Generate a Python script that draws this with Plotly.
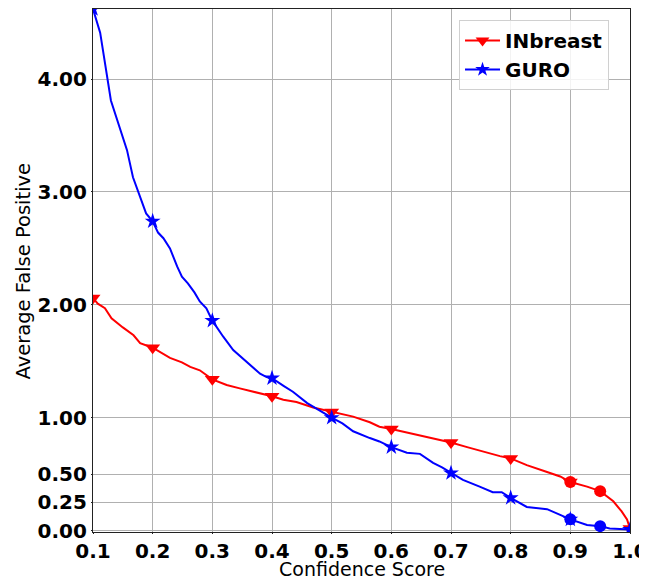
import plotly.graph_objects as go

# INbreast curve (confidence score, average false positive)
inb_x = [0.100, 0.108, 0.120, 0.131, 0.150, 0.168, 0.179, 0.200, 0.229, 0.249, 0.263, 0.279,
         0.300, 0.324, 0.346, 0.380, 0.400, 0.419, 0.441, 0.469, 0.500, 0.536, 0.564, 0.580,
         0.600, 0.626, 0.660, 0.700, 0.727, 0.760, 0.782, 0.800, 0.827, 0.861, 0.883, 0.900,
         0.928, 0.950, 0.972, 0.986, 0.995, 1.000]
inb_y = [2.06, 2.01, 1.97, 1.88, 1.80, 1.73, 1.66, 1.62, 1.53, 1.49, 1.45, 1.42,
         1.34, 1.29, 1.26, 1.22, 1.19, 1.16, 1.14, 1.09, 1.05, 1.01, 0.96, 0.92,
         0.90, 0.87, 0.83, 0.78, 0.74, 0.69, 0.66, 0.64, 0.58, 0.52, 0.48, 0.43,
         0.39, 0.35, 0.26, 0.17, 0.10, 0.02]

# GURO curve
guro_x = [0.100, 0.112, 0.130, 0.142, 0.157, 0.167, 0.179, 0.189, 0.200, 0.209, 0.218, 0.229,
          0.241, 0.249, 0.259, 0.270, 0.279, 0.290, 0.300, 0.318, 0.335, 0.358, 0.380, 0.391,
          0.400, 0.420, 0.435, 0.459, 0.480, 0.500, 0.518, 0.536, 0.564, 0.580, 0.600, 0.612,
          0.626, 0.648, 0.670, 0.685, 0.700, 0.720, 0.748, 0.770, 0.785, 0.800, 0.827, 0.861,
          0.883, 0.900, 0.928, 0.950, 0.966, 1.000]
guro_y = [4.62, 4.41, 3.81, 3.61, 3.37, 3.13, 2.96, 2.81, 2.74, 2.64, 2.59, 2.50,
          2.34, 2.25, 2.19, 2.11, 2.03, 1.97, 1.86, 1.72, 1.60, 1.49, 1.39, 1.36,
          1.35, 1.28, 1.23, 1.13, 1.06, 1.00, 0.95, 0.88, 0.82, 0.79, 0.74, 0.72,
          0.69, 0.68, 0.60, 0.56, 0.51, 0.45, 0.39, 0.34, 0.34, 0.29, 0.21, 0.19,
          0.14, 0.10, 0.05, 0.04, 0.02, 0.01]

marker_scores = [0.1, 0.2, 0.3, 0.4, 0.5, 0.6, 0.7, 0.8, 0.9, 1.0]
circle_scores = [0.9, 0.95]

x_ticks = [0.1, 0.2, 0.3, 0.4, 0.5, 0.6, 0.7, 0.8, 0.9, 1.0]
y_ticks = [0.0, 0.25, 0.5, 1.0, 2.0, 3.0, 4.0]
y_tick_labels = ["0.00", "0.25", "0.50", "1.00", "2.00", "3.00", "4.00"]


def pick(xs, ys, wanted):
    lut = {round(a, 3): b for a, b in zip(xs, ys)}
    return [w for w in wanted], [lut[round(w, 3)] for w in wanted]


fig = go.Figure()

series = [
    ("INbreast", inb_x, inb_y, "#ff0000", "triangle-down", 13),
    ("GURO", guro_x, guro_y, "#0000ff", "star", 12),
]

for name, xs, ys, color, sym, msize in series:
    fig.add_trace(go.Scatter(x=xs, y=ys, mode="lines", line=dict(color=color, width=2),
                             name=name, legendgroup=name, showlegend=False, hoverinfo="skip"))
    mx, my = pick(xs, ys, marker_scores)
    fig.add_trace(go.Scatter(x=mx, y=my, mode="markers",
                             marker=dict(symbol=sym, size=msize, color=color, line=dict(width=0)),
                             name=name, legendgroup=name, showlegend=False))
    cx, cy = pick(xs, ys, circle_scores)
    fig.add_trace(go.Scatter(x=cx, y=cy, mode="markers",
                             marker=dict(symbol="circle", size=12, color=color, line=dict(width=0)),
                             name=name, legendgroup=name, showlegend=False))
    # legend entry
    fig.add_trace(go.Scatter(x=[None], y=[None], mode="lines+markers",
                             line=dict(color=color, width=2),
                             marker=dict(symbol=sym, size=msize - 1, color=color),
                             name=name, legendgroup=name, showlegend=True))

axis_common = dict(
    showline=True, linecolor="#222222", linewidth=1.2, mirror=True,
    showgrid=True, gridcolor="#b0b0b0", gridwidth=1,
    ticks="outside", ticklen=1, tickcolor="#222222",
    tickfont=dict(family="DejaVu Sans", size=20, color="black", weight="bold"),
    zeroline=False, automargin=False, ticklabeloverflow="allow",
)

fig.update_xaxes(range=[0.1, 1.0], tickvals=x_ticks, tickformat=".1f", **axis_common)
fig.update_yaxes(range=[-0.012, 4.62], tickvals=y_ticks, ticktext=y_tick_labels, **axis_common)

title_font = dict(family="DejaVu Sans", size=19, color="black")
fig.add_annotation(text="Confidence Score", xref="paper", yref="paper", x=0.501, y=-0.0700,
                   xanchor="center", yanchor="middle", showarrow=False, font=title_font)
fig.add_annotation(text="Average False Positive", xref="paper", yref="paper", x=-0.1285, y=0.5,
                   xanchor="center", yanchor="middle", showarrow=False, textangle=-90,
                   font=dict(family="DejaVu Sans", size=19.5, color="black"))

# page body adds an 8px offset, so the figure is sized to fit the remaining window
fig.update_layout(
    width=639, height=570,
    margin=dict(l=85, r=17, t=1, b=46),
    plot_bgcolor="white", paper_bgcolor="white",
    legend=dict(x=0.6816, y=0.979, xanchor="left", yanchor="top",
                bgcolor="rgba(255,255,255,0.85)", bordercolor="#d0d0d0", borderwidth=1,
                font=dict(family="DejaVu Sans", size=20, color="black", weight="bold"),
                itemwidth=35, tracegroupgap=0),
    showlegend=True,
)

fig.write_html("out.html")
